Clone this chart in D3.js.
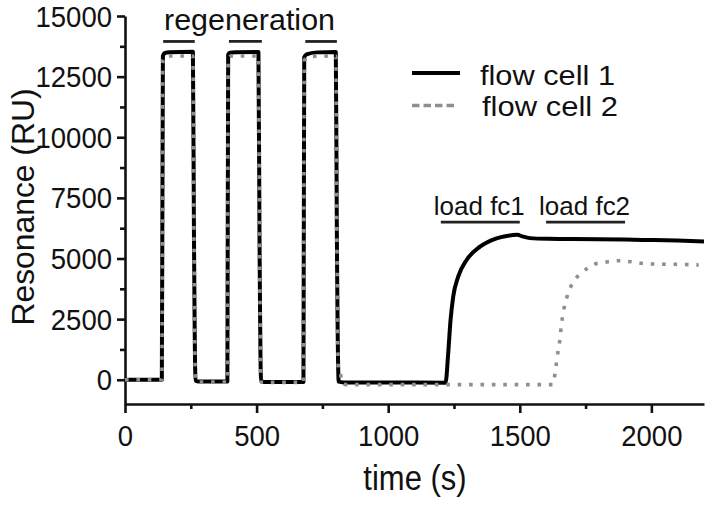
<!DOCTYPE html>
<html>
<head>
<meta charset="utf-8">
<script src="https://cdn.jsdelivr.net/npm/d3@7/dist/d3.min.js"></script>
<style>
  html, body { margin: 0; padding: 0; background: #fff; }
  svg { display: block; }
  text { font-family: "Liberation Sans", Arial, Helvetica, sans-serif; fill: #111; }
</style>
</head>
<body>
<svg id="chart" width="713" height="505"></svg>
<script>
// ---- data ----
const fc1Time = [0, 140, 144, 150, 170, 258, 262, 268, 280, 389, 392, 398, 420, 507, 511, 517, 530, 678, 681, 690, 730, 801, 805, 812, 830, 1000, 1218,
  1228, 1237, 1247, 1266, 1298, 1349, 1412, 1450, 1491, 1510, 1539, 1608, 1700, 1800, 1900, 2000, 2100, 2200];
const fc1Values = [0, 0, 13350, 13470, 13510, 13530, 6000, -40, -70, -70, 13400, 13490, 13510, 13520, 6000, -60, -90, -90, 13300, 13420, 13500, 13520, 6000, -80, -110, -110, -120,
  1091, 2464, 3425, 4250, 4938, 5487, 5833, 5930, 5975, 5910, 5840, 5810, 5800, 5790, 5780, 5760, 5740, 5700];

const fc2Time = [0, 140, 144, 152, 170, 258, 262, 268, 280, 389, 392, 400, 420, 507, 511, 517, 530, 678, 681, 692, 730, 801, 805, 811, 818, 824, 840, 1000, 1625,
  1634, 1640, 1646, 1653, 1657, 1663, 1672, 1684, 1701, 1729, 1760, 1794, 1836, 1878, 1921, 1963, 2007, 2090, 2180];
const fc2Values = [0, 0, 13200, 13330, 13350, 13350, 6000, -60, -90, -90, 13250, 13340, 13350, 13350, 6000, -90, -110, -110, 13150, 13300, 13340, 13350, 6000, 350, 300, -150, -200, -200, -200,
  266, 744, 1227, 1709, 2163, 2629, 3124, 3565, 4002, 4348, 4621, 4802, 4868, 4909, 4868, 4802, 4773, 4761, 4732];

const xTicks = [0, 500, 1000, 1500, 2000];
const xMinorTicks = [250, 750, 1250, 1750];
const yTicks = [0, 2500, 5000, 7500, 10000, 12500, 15000];
const yMinorTicks = [1250, 3750, 6250, 8750, 11250, 13750];

const seriesNames = ["flow cell 1", "flow cell 2"];
const regenStart = [145, 395, 685];
const regenEnd = [265, 520, 805];
const regenLabel = "regeneration";
const regenLevel = 13950;
const loadLabels = ["load fc1", "load fc2"];
const loadStart = [1200, 1600];
const loadEnd = [1500, 1900];
const loadLevel = 6500;
const xTitle = "time (s)";
const yTitle = "Resonance (RU)";

// ---- layout ----
const svg = d3.select("#chart");
const x = d3.scaleLinear().domain([0, 2200]).range([125, 704]);
const y = d3.scaleLinear().domain([-1000, 15000]).range([404, 16]);

const black = "#000";
const grey = "#8f8f8f";
const axisW = 2.6;

// axes
const xAxis = svg.append("g").attr("transform", `translate(0,${y(-1000)})`)
  .call(d3.axisBottom(x).tickValues(xTicks).tickSize(9).tickSizeOuter(0).tickFormat(d3.format("d")));
const xMinor = svg.append("g").attr("transform", `translate(0,${y(-1000)})`)
  .call(d3.axisBottom(x).tickValues(xMinorTicks).tickSize(5).tickSizeOuter(0).tickFormat(""));
const yAxis = svg.append("g").attr("transform", `translate(${x(0)},0)`)
  .call(d3.axisLeft(y).tickValues(yTicks).tickSize(8).tickSizeOuter(0).tickFormat(d3.format("d")));
const yMinor = svg.append("g").attr("transform", `translate(${x(0)},0)`)
  .call(d3.axisLeft(y).tickValues(yMinorTicks).tickSize(5).tickSizeOuter(0).tickFormat(""));

[xAxis, xMinor, yAxis, yMinor].forEach(g => {
  g.selectAll("path.domain").attr("stroke", "#111").attr("stroke-width", axisW);
  g.selectAll(".tick line").attr("stroke", "#111").attr("stroke-width", axisW);
});
xMinor.select("path.domain").remove();
yMinor.select("path.domain").remove();

const tickFont = 27.5, tickSY = 1.05;
xAxis.selectAll(".tick text")
  .attr("y", null).attr("dy", null)
  .attr("font-size", tickFont).attr("fill", "#111")
  .attr("text-anchor", "middle")
  .attr("transform", `translate(0,42) scale(1,${tickSY})`);
yAxis.selectAll(".tick text")
  .attr("x", null).attr("dy", null)
  .attr("font-size", tickFont).attr("fill", "#111")
  .attr("text-anchor", "end")
  .attr("transform", `translate(-13,10) scale(1,${tickSY})`);

// axis titles
svg.append("text")
  .attr("transform", `translate(${(x(0) + x(2200)) / 2 + 0.5},490) scale(1,1.12)`)
  .attr("text-anchor", "middle").attr("font-size", 31)
  .text(xTitle);
svg.append("text")
  .attr("transform", `translate(34,${(y(15000) + y(-1000)) / 2 - 3}) rotate(-90)`)
  .attr("text-anchor", "middle").attr("font-size", 31)
  .attr("textLength", 237).attr("lengthAdjust", "spacingAndGlyphs")
  .text(yTitle);

// series lines
const line = d3.line().curve(d3.curveMonotoneX);
const fc1Pts = fc1Time.map((t, i) => [x(t), y(fc1Values[i])]);
const fc2Pts = fc2Time.map((t, i) => [x(t), y(fc2Values[i])]);

svg.append("path").attr("d", line(fc1Pts))
  .attr("fill", "none").attr("stroke", black).attr("stroke-width", 4)
  .attr("stroke-linejoin", "round");
svg.append("path").attr("d", line(fc2Pts))
  .attr("fill", "none").attr("stroke", grey).attr("stroke-width", 3.6)
  .attr("stroke-dasharray", "3.6,7.8");

// regeneration bars & label
const bar = "#222";
regenStart.forEach((s, i) => {
  svg.append("line").attr("x1", x(s)).attr("x2", x(regenEnd[i]))
    .attr("y1", y(regenLevel)).attr("y2", y(regenLevel))
    .attr("stroke", bar).attr("stroke-width", 2.8);
});
svg.append("text")
  .attr("x", 164).attr("y", 30)
  .attr("font-size", 29).attr("textLength", 171).attr("lengthAdjust", "spacingAndGlyphs")
  .text(regenLabel);

// load bars & labels
loadStart.forEach((s, i) => {
  svg.append("line").attr("x1", x(s)).attr("x2", x(loadEnd[i]))
    .attr("y1", y(loadLevel)).attr("y2", y(loadLevel))
    .attr("stroke", bar).attr("stroke-width", 2.8);
  svg.append("text")
    .attr("x", x(s) - 7).attr("y", 215)
    .attr("font-size", 26).attr("textLength", 91).attr("lengthAdjust", "spacingAndGlyphs")
    .text(loadLabels[i]);
});

// legend
const leg = svg.append("g");
leg.append("line").attr("x1", 412).attr("x2", 460).attr("y1", 73).attr("y2", 73)
  .attr("stroke", black).attr("stroke-width", 4.2);
leg.append("text").attr("x", 480).attr("y", 85).attr("font-size", 27.5)
  .attr("textLength", 135).attr("lengthAdjust", "spacingAndGlyphs").text(seriesNames[0]);
leg.append("line").attr("x1", 412).attr("x2", 456).attr("y1", 105.5).attr("y2", 105.5)
  .attr("stroke", grey).attr("stroke-width", 3.6).attr("stroke-dasharray", "7.5,4");
leg.append("text").attr("x", 482).attr("y", 116).attr("font-size", 27.5)
  .attr("textLength", 136).attr("lengthAdjust", "spacingAndGlyphs").text(seriesNames[1]);
</script>
</body>
</html>
